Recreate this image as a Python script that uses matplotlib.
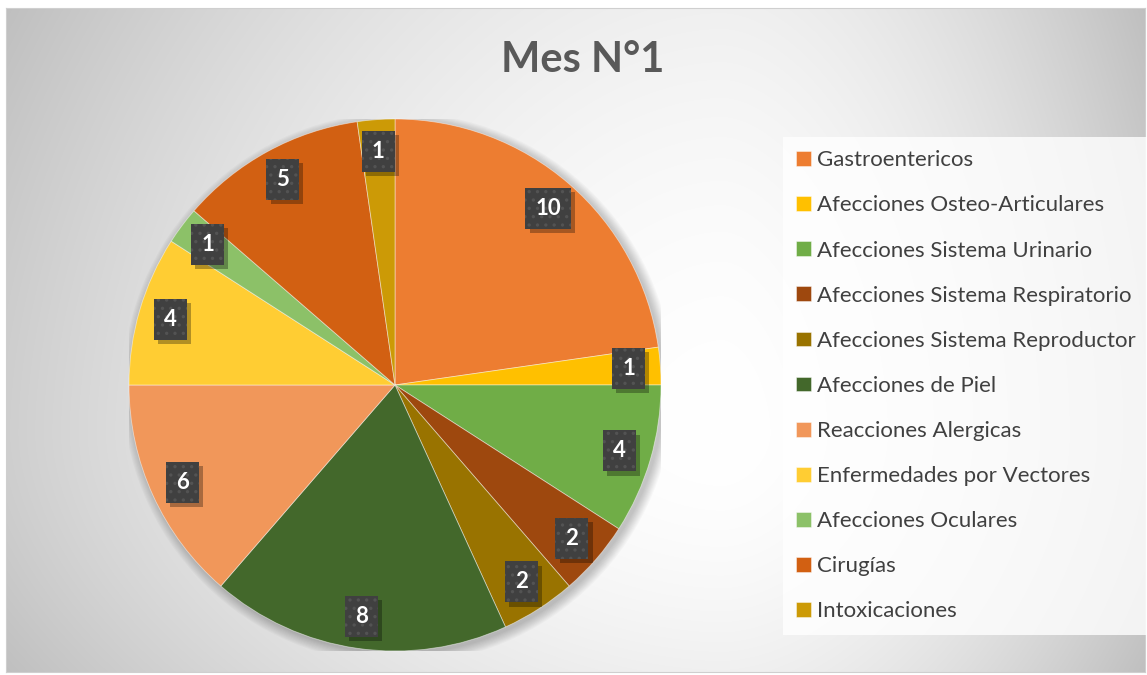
import numpy as np
import matplotlib
matplotlib.use("Agg")
import matplotlib.pyplot as plt
import matplotlib.patheffects as pe
from matplotlib.patches import Circle

plt.rcParams['font.family'] = ['Lato', 'DejaVu Sans']

categorias = ['Gastroentericos', 'Afecciones Osteo-Articulares',
              'Afecciones Sistema Urinario', 'Afecciones Sistema Respiratorio',
              'Afecciones Sistema Reproductor', 'Afecciones de Piel',
              'Reacciones Alergicas', 'Enfermedades por Vectores',
              'Afecciones Oculares', 'Cirugías', 'Intoxicaciones']
casos = [10, 1, 4, 2, 2, 8, 6, 4, 1, 5, 1]
colores = ['#ED7D31', '#FFC000', '#70AD47', '#9E480E', '#997300', '#43682B',
           '#F1975A', '#FFCD33', '#8CC168', '#D26012', '#CC9A06']


class SombraCaja(pe.AbstractPathEffect):
    # sombra de la caja de etiqueta, sin copiar el tramado
    def __init__(self, offset=(3, -3), alpha=0.3):
        super().__init__(offset)
        self.alpha = alpha

    def draw_path(self, renderer, gc, tpath, affine, rgbFace):
        gc0 = renderer.new_gc()
        gc0.copy_properties(gc)
        gc0.set_hatch(None)
        gc0.set_linewidth(0)
        gc0.set_alpha(self.alpha)
        renderer.draw_path(gc0, tpath, affine + self._offset_transform(renderer),
                           (0, 0, 0))
        gc0.restore()


W, H = 1147, 675
fig = plt.figure(figsize=(W / 100, H / 100), dpi=100)
fig.patch.set_facecolor('white')

# fondo con degradado (claro hacia el centro-derecha, gris en las esquinas)
bw, bh = 1139, 664
bg = fig.add_axes([6 / W, 3 / H, bw / W, bh / H])
yy, xx = np.mgrid[0:bh, 0:bw].astype(float)
cx0, cy0 = 715, 425
dx = np.where(xx < cx0, (xx - cx0) / cx0, (xx - cx0) / (bw - cx0))
dy = np.where(yy < cy0, (yy - cy0) / cy0, (yy - cy0) / (bh - cy0))
g = np.clip(1 - 0.19 * np.abs(dx) ** 1.8 - 0.06 * np.abs(dy) ** 1.8, 0, 1)
bg.imshow(np.dstack([g, g, g]), aspect='auto', extent=[0, 1, 0, 1])
bg.set_xticks([])
bg.set_yticks([])
for s in bg.spines.values():
    s.set_color('#cfcfcf')
    s.set_linewidth(0.8)

# pastel
r = 266
cx, cy = 395, 385
ax = fig.add_axes([(cx - r) / W, (H - cy - r) / H, 2 * r / W, 2 * r / H])
ax.set_facecolor('none')
ax.set_zorder(2)

# sombra suave del pastel
for k in range(10):
    ax.add_patch(Circle((0.012, -0.012), 1.0 + 0.004 * k, facecolor='black',
                        edgecolor='none', alpha=0.025, zorder=0.5))

total = sum(casos)
wedges, _, autotexts = ax.pie(
    casos, colors=colores, startangle=90, counterclock=False, radius=1,
    autopct=lambda p: '{:d}'.format(int(round(p * total / 100))),
    pctdistance=0.88,
    wedgeprops=dict(edgecolor=(1, 1, 1, 0.5), linewidth=0.6),
    textprops=dict(color='white', fontsize=16, fontweight='bold'))
ax.set_xlim(-1, 1)
ax.set_ylim(-1, 1)

plt.rcParams['hatch.linewidth'] = 1.2
for t in autotexts:
    t.set_zorder(4)
    t.set_bbox(dict(boxstyle='square,pad=0.45', facecolor='#404040',
                    edgecolor='#535353', hatch='..', linewidth=0))
    t.get_bbox_patch().set_path_effects([SombraCaja(), pe.Normal()])

fig.text(583 / W, 1 - 60 / H, 'Mes N°1', ha='center', va='center',
         fontsize=30, fontweight='bold', color='#595959')

leg = fig.legend(wedges, categorias, loc='upper left',
                 bbox_to_anchor=(783 / W, 1 - 137 / H), fontsize=16,
                 frameon=True, fancybox=False, handlelength=0.65,
                 handleheight=0.65, handletextpad=0.3, labelspacing=1.13,
                 borderpad=0.6, borderaxespad=0, labelcolor='#404040')
leg.get_frame().set_facecolor((1, 1, 1, 0.45))
leg.get_frame().set_edgecolor('none')

fig.savefig('out.png', dpi=100)
